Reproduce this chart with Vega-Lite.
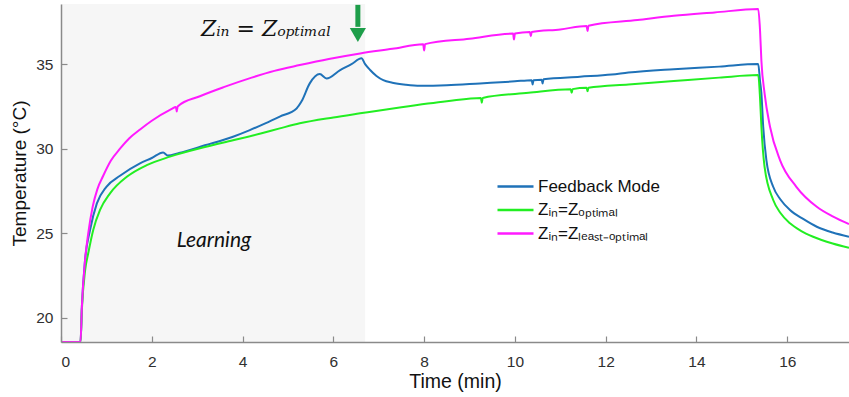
{
  "$schema": "https://vega.github.io/schema/vega-lite/v6.json",
  "width": 788,
  "height": 338,
  "autosize": {"type": "none"},
  "padding": {"left": 61, "top": 4, "right": 0, "bottom": 55},
  "background": "white",
  "config": {
    "view": {"stroke": null},
    "font": "Liberation Sans"
  },
  "datasets": {
    "region": [{"start": 0, "end": 6.7}],
    "lines": [
      {"series": "Feedback Mode", "t": 0, "T": 18.58},
      {"series": "Feedback Mode", "t": 0.43, "T": 18.58},
      {"series": "Feedback Mode", "t": 0.46, "T": 20.67},
      {"series": "Feedback Mode", "t": 0.53, "T": 23.42},
      {"series": "Feedback Mode", "t": 0.64, "T": 25.2},
      {"series": "Feedback Mode", "t": 0.79, "T": 26.77},
      {"series": "Feedback Mode", "t": 1.0, "T": 27.75},
      {"series": "Feedback Mode", "t": 1.3, "T": 28.4},
      {"series": "Feedback Mode", "t": 1.74, "T": 29.13},
      {"series": "Feedback Mode", "t": 2.0, "T": 29.45},
      {"series": "Feedback Mode", "t": 2.25, "T": 29.78},
      {"series": "Feedback Mode", "t": 2.35, "T": 29.6},
      {"series": "Feedback Mode", "t": 2.6, "T": 29.75},
      {"series": "Feedback Mode", "t": 3.17, "T": 30.2},
      {"series": "Feedback Mode", "t": 3.79, "T": 30.71},
      {"series": "Feedback Mode", "t": 4.16, "T": 31.1},
      {"series": "Feedback Mode", "t": 4.5, "T": 31.5},
      {"series": "Feedback Mode", "t": 4.82, "T": 31.9},
      {"series": "Feedback Mode", "t": 5.19, "T": 32.38},
      {"series": "Feedback Mode", "t": 5.3, "T": 32.8},
      {"series": "Feedback Mode", "t": 5.48, "T": 33.86},
      {"series": "Feedback Mode", "t": 5.7, "T": 34.41},
      {"series": "Feedback Mode", "t": 5.85, "T": 34.15},
      {"series": "Feedback Mode", "t": 6.15, "T": 34.65},
      {"series": "Feedback Mode", "t": 6.4, "T": 35.0},
      {"series": "Feedback Mode", "t": 6.62, "T": 35.34},
      {"series": "Feedback Mode", "t": 6.7, "T": 35.0},
      {"series": "Feedback Mode", "t": 6.81, "T": 34.65},
      {"series": "Feedback Mode", "t": 6.95, "T": 34.3},
      {"series": "Feedback Mode", "t": 7.1, "T": 34.05},
      {"series": "Feedback Mode", "t": 7.3, "T": 33.9},
      {"series": "Feedback Mode", "t": 7.6, "T": 33.78},
      {"series": "Feedback Mode", "t": 7.91, "T": 33.72},
      {"series": "Feedback Mode", "t": 8.5, "T": 33.75},
      {"series": "Feedback Mode", "t": 9.23, "T": 33.86},
      {"series": "Feedback Mode", "t": 10.0, "T": 33.98},
      {"series": "Feedback Mode", "t": 10.37, "T": 34.05},
      {"series": "Feedback Mode", "t": 10.39, "T": 33.8},
      {"series": "Feedback Mode", "t": 10.41, "T": 34.05},
      {"series": "Feedback Mode", "t": 10.59, "T": 34.08},
      {"series": "Feedback Mode", "t": 10.61, "T": 33.85},
      {"series": "Feedback Mode", "t": 10.63, "T": 34.1},
      {"series": "Feedback Mode", "t": 11.43, "T": 34.25},
      {"series": "Feedback Mode", "t": 12.13, "T": 34.38},
      {"series": "Feedback Mode", "t": 12.5, "T": 34.5},
      {"series": "Feedback Mode", "t": 13.5, "T": 34.7},
      {"series": "Feedback Mode", "t": 14.5, "T": 34.85},
      {"series": "Feedback Mode", "t": 15.36, "T": 35.0},
      {"series": "Feedback Mode", "t": 15.4, "T": 34.0},
      {"series": "Feedback Mode", "t": 15.43, "T": 33.27},
      {"series": "Feedback Mode", "t": 15.47, "T": 31.3},
      {"series": "Feedback Mode", "t": 15.54, "T": 29.33},
      {"series": "Feedback Mode", "t": 15.69, "T": 27.75},
      {"series": "Feedback Mode", "t": 15.85, "T": 27.0},
      {"series": "Feedback Mode", "t": 16.06, "T": 26.38},
      {"series": "Feedback Mode", "t": 16.35, "T": 25.85},
      {"series": "Feedback Mode", "t": 16.65, "T": 25.39},
      {"series": "Feedback Mode", "t": 17.0, "T": 25.05},
      {"series": "Feedback Mode", "t": 17.36, "T": 24.8},
      {"series": "Zᵢₙ=Zₒₚₜᵢₘₐₗ", "t": 0, "T": 18.58},
      {"series": "Zᵢₙ=Zₒₚₜᵢₘₐₗ", "t": 0.43, "T": 18.58},
      {"series": "Zᵢₙ=Zₒₚₜᵢₘₐₗ", "t": 0.46, "T": 20.5},
      {"series": "Zᵢₙ=Zₒₚₜᵢₘₐₗ", "t": 0.53, "T": 22.8},
      {"series": "Zᵢₙ=Zₒₚₜᵢₘₐₗ", "t": 0.6, "T": 23.82},
      {"series": "Zᵢₙ=Zₒₚₜᵢₘₐₗ", "t": 0.71, "T": 25.2},
      {"series": "Zᵢₙ=Zₒₚₜᵢₘₐₗ", "t": 0.86, "T": 26.38},
      {"series": "Zᵢₙ=Zₒₚₜᵢₘₐₗ", "t": 1.08, "T": 27.36},
      {"series": "Zᵢₙ=Zₒₚₜᵢₘₐₗ", "t": 1.45, "T": 28.34},
      {"series": "Zᵢₙ=Zₒₚₜᵢₘₐₗ", "t": 1.89, "T": 29.03},
      {"series": "Zᵢₙ=Zₒₚₜᵢₘₐₗ", "t": 2.4, "T": 29.53},
      {"series": "Zᵢₙ=Zₒₚₜᵢₘₐₗ", "t": 3.17, "T": 30.1},
      {"series": "Zᵢₙ=Zₒₚₜᵢₘₐₗ", "t": 3.79, "T": 30.5},
      {"series": "Zᵢₙ=Zₒₚₜᵢₘₐₗ", "t": 4.4, "T": 30.9},
      {"series": "Zᵢₙ=Zₒₚₜᵢₘₐₗ", "t": 4.82, "T": 31.2},
      {"series": "Zᵢₙ=Zₒₚₜᵢₘₐₗ", "t": 5.26, "T": 31.5},
      {"series": "Zᵢₙ=Zₒₚₜᵢₘₐₗ", "t": 6.0, "T": 31.85},
      {"series": "Zᵢₙ=Zₒₚₜᵢₘₐₗ", "t": 6.59, "T": 32.09},
      {"series": "Zᵢₙ=Zₒₚₜᵢₘₐₗ", "t": 7.5, "T": 32.45},
      {"series": "Zᵢₙ=Zₒₚₜᵢₘₐₗ", "t": 8.5, "T": 32.8},
      {"series": "Zᵢₙ=Zₒₚₜᵢₘₐₗ", "t": 9.25, "T": 33.0},
      {"series": "Zᵢₙ=Zₒₚₜᵢₘₐₗ", "t": 9.27, "T": 32.72},
      {"series": "Zᵢₙ=Zₒₚₜᵢₘₐₗ", "t": 9.29, "T": 33.0},
      {"series": "Zᵢₙ=Zₒₚₜᵢₘₐₗ", "t": 10.3, "T": 33.3},
      {"series": "Zᵢₙ=Zₒₚₜᵢₘₐₗ", "t": 11.23, "T": 33.52},
      {"series": "Zᵢₙ=Zₒₚₜᵢₘₐₗ", "t": 11.25, "T": 33.3},
      {"series": "Zᵢₙ=Zₒₚₜᵢₘₐₗ", "t": 11.27, "T": 33.52},
      {"series": "Zᵢₙ=Zₒₚₜᵢₘₐₗ", "t": 11.58, "T": 33.6},
      {"series": "Zᵢₙ=Zₒₚₜᵢₘₐₗ", "t": 11.6, "T": 33.4},
      {"series": "Zᵢₙ=Zₒₚₜᵢₘₐₗ", "t": 11.62, "T": 33.6},
      {"series": "Zᵢₙ=Zₒₚₜᵢₘₐₗ", "t": 12.5, "T": 33.8},
      {"series": "Zᵢₙ=Zₒₚₜᵢₘₐₗ", "t": 13.5, "T": 34.0},
      {"series": "Zᵢₙ=Zₒₚₜᵢₘₐₗ", "t": 14.5, "T": 34.2},
      {"series": "Zᵢₙ=Zₒₚₜᵢₘₐₗ", "t": 15.36, "T": 34.35},
      {"series": "Zᵢₙ=Zₒₚₜᵢₘₐₗ", "t": 15.4, "T": 33.0},
      {"series": "Zᵢₙ=Zₒₚₜᵢₘₐₗ", "t": 15.43, "T": 31.3},
      {"series": "Zᵢₙ=Zₒₚₜᵢₘₐₗ", "t": 15.5, "T": 28.93},
      {"series": "Zᵢₙ=Zₒₚₜᵢₘₐₗ", "t": 15.69, "T": 26.97},
      {"series": "Zᵢₙ=Zₒₚₜᵢₘₐₗ", "t": 15.85, "T": 26.2},
      {"series": "Zᵢₙ=Zₒₚₜᵢₘₐₗ", "t": 16.06, "T": 25.59},
      {"series": "Zᵢₙ=Zₒₚₜᵢₘₐₗ", "t": 16.3, "T": 25.15},
      {"series": "Zᵢₙ=Zₒₚₜᵢₘₐₗ", "t": 16.57, "T": 24.8},
      {"series": "Zᵢₙ=Zₒₚₜᵢₘₐₗ", "t": 17.0, "T": 24.4},
      {"series": "Zᵢₙ=Zₒₚₜᵢₘₐₗ", "t": 17.36, "T": 24.15},
      {"series": "Zᵢₙ=Zₗₑₐₛₜ₋ₒₚₜᵢₘₐₗ", "t": 0, "T": 18.58},
      {"series": "Zᵢₙ=Zₗₑₐₛₜ₋ₒₚₜᵢₘₐₗ", "t": 0.43, "T": 18.58},
      {"series": "Zᵢₙ=Zₗₑₐₛₜ₋ₒₚₜᵢₘₐₗ", "t": 0.46, "T": 20.67},
      {"series": "Zᵢₙ=Zₗₑₐₛₜ₋ₒₚₜᵢₘₐₗ", "t": 0.53, "T": 23.42},
      {"series": "Zᵢₙ=Zₗₑₐₛₜ₋ₒₚₜᵢₘₐₗ", "t": 0.6, "T": 25.0},
      {"series": "Zᵢₙ=Zₗₑₐₛₜ₋ₒₚₜᵢₘₐₗ", "t": 0.7, "T": 26.6},
      {"series": "Zᵢₙ=Zₗₑₐₛₜ₋ₒₚₜᵢₘₐₗ", "t": 0.8, "T": 27.6},
      {"series": "Zᵢₙ=Zₗₑₐₛₜ₋ₒₚₜᵢₘₐₗ", "t": 0.93, "T": 28.4},
      {"series": "Zᵢₙ=Zₗₑₐₛₜ₋ₒₚₜᵢₘₐₗ", "t": 1.1, "T": 29.3},
      {"series": "Zᵢₙ=Zₗₑₐₛₜ₋ₒₚₜᵢₘₐₗ", "t": 1.3, "T": 30.0},
      {"series": "Zᵢₙ=Zₗₑₐₛₜ₋ₒₚₜᵢₘₐₗ", "t": 1.5, "T": 30.6},
      {"series": "Zᵢₙ=Zₗₑₐₛₜ₋ₒₚₜᵢₘₐₗ", "t": 1.75, "T": 31.15},
      {"series": "Zᵢₙ=Zₗₑₐₛₜ₋ₒₚₜᵢₘₐₗ", "t": 2.0, "T": 31.65},
      {"series": "Zᵢₙ=Zₗₑₐₛₜ₋ₒₚₜᵢₘₐₗ", "t": 2.44, "T": 32.35},
      {"series": "Zᵢₙ=Zₗₑₐₛₜ₋ₒₚₜᵢₘₐₗ", "t": 2.53, "T": 32.47},
      {"series": "Zᵢₙ=Zₗₑₐₛₜ₋ₒₚₜᵢₘₐₗ", "t": 2.55, "T": 32.2},
      {"series": "Zᵢₙ=Zₗₑₐₛₜ₋ₒₚₜᵢₘₐₗ", "t": 2.57, "T": 32.5},
      {"series": "Zᵢₙ=Zₗₑₐₛₜ₋ₒₚₜᵢₘₐₗ", "t": 3.06, "T": 33.1},
      {"series": "Zᵢₙ=Zₗₑₐₛₜ₋ₒₚₜᵢₘₐₗ", "t": 3.6, "T": 33.65},
      {"series": "Zᵢₙ=Zₗₑₐₛₜ₋ₒₚₜᵢₘₐₗ", "t": 4.2, "T": 34.2},
      {"series": "Zᵢₙ=Zₗₑₐₛₜ₋ₒₚₜᵢₘₐₗ", "t": 4.7, "T": 34.6},
      {"series": "Zᵢₙ=Zₗₑₐₛₜ₋ₒₚₜᵢₘₐₗ", "t": 5.26, "T": 34.94},
      {"series": "Zᵢₙ=Zₗₑₐₛₜ₋ₒₚₜᵢₘₐₗ", "t": 5.9, "T": 35.3},
      {"series": "Zᵢₙ=Zₗₑₐₛₜ₋ₒₚₜᵢₘₐₗ", "t": 6.59, "T": 35.63},
      {"series": "Zᵢₙ=Zₗₑₐₛₜ₋ₒₚₜᵢₘₐₗ", "t": 7.3, "T": 35.9},
      {"series": "Zᵢₙ=Zₗₑₐₛₜ₋ₒₚₜᵢₘₐₗ", "t": 7.98, "T": 36.17},
      {"series": "Zᵢₙ=Zₗₑₐₛₜ₋ₒₚₜᵢₘₐₗ", "t": 8.0, "T": 35.8},
      {"series": "Zᵢₙ=Zₗₑₐₛₜ₋ₒₚₜᵢₘₐₗ", "t": 8.02, "T": 36.18},
      {"series": "Zᵢₙ=Zₗₑₐₛₜ₋ₒₚₜᵢₘₐₗ", "t": 9.0, "T": 36.5},
      {"series": "Zᵢₙ=Zₗₑₐₛₜ₋ₒₚₜᵢₘₐₗ", "t": 9.96, "T": 36.8},
      {"series": "Zᵢₙ=Zₗₑₐₛₜ₋ₒₚₜᵢₘₐₗ", "t": 9.98, "T": 36.45},
      {"series": "Zᵢₙ=Zₗₑₐₛₜ₋ₒₚₜᵢₘₐₗ", "t": 10.0, "T": 36.81},
      {"series": "Zᵢₙ=Zₗₑₐₛₜ₋ₒₚₜᵢₘₐₗ", "t": 10.33, "T": 36.9},
      {"series": "Zᵢₙ=Zₗₑₐₛₜ₋ₒₚₜᵢₘₐₗ", "t": 10.35, "T": 36.65},
      {"series": "Zᵢₙ=Zₗₑₐₛₜ₋ₒₚₜᵢₘₐₗ", "t": 10.37, "T": 36.9},
      {"series": "Zᵢₙ=Zₗₑₐₛₜ₋ₒₚₜᵢₘₐₗ", "t": 11.0, "T": 37.05},
      {"series": "Zᵢₙ=Zₗₑₐₛₜ₋ₒₚₜᵢₘₐₗ", "t": 11.58, "T": 37.25},
      {"series": "Zᵢₙ=Zₗₑₐₛₜ₋ₒₚₜᵢₘₐₗ", "t": 11.6, "T": 36.95},
      {"series": "Zᵢₙ=Zₗₑₐₛₜ₋ₒₚₜᵢₘₐₗ", "t": 11.62, "T": 37.27},
      {"series": "Zᵢₙ=Zₗₑₐₛₜ₋ₒₚₜᵢₘₐₗ", "t": 12.7, "T": 37.6},
      {"series": "Zᵢₙ=Zₗₑₐₛₜ₋ₒₚₜᵢₘₐₗ", "t": 13.5, "T": 37.85},
      {"series": "Zᵢₙ=Zₗₑₐₛₜ₋ₒₚₜᵢₘₐₗ", "t": 14.4, "T": 38.05},
      {"series": "Zᵢₙ=Zₗₑₐₛₜ₋ₒₚₜᵢₘₐₗ", "t": 15.36, "T": 38.25},
      {"series": "Zᵢₙ=Zₗₑₐₛₜ₋ₒₚₜᵢₘₐₗ", "t": 15.4, "T": 37.0},
      {"series": "Zᵢₙ=Zₗₑₐₛₜ₋ₒₚₜᵢₘₐₗ", "t": 15.43, "T": 35.2},
      {"series": "Zᵢₙ=Zₗₑₐₛₜ₋ₒₚₜᵢₘₐₗ", "t": 15.5, "T": 33.27},
      {"series": "Zᵢₙ=Zₗₑₐₛₜ₋ₒₚₜᵢₘₐₗ", "t": 15.62, "T": 31.3},
      {"series": "Zᵢₙ=Zₗₑₐₛₜ₋ₒₚₜᵢₘₐₗ", "t": 15.84, "T": 29.33},
      {"series": "Zᵢₙ=Zₗₑₐₛₜ₋ₒₚₜᵢₘₐₗ", "t": 16.2, "T": 27.75},
      {"series": "Zᵢₙ=Zₗₑₐₛₜ₋ₒₚₜᵢₘₐₗ", "t": 16.65, "T": 26.57},
      {"series": "Zᵢₙ=Zₗₑₐₛₜ₋ₒₚₜᵢₘₐₗ", "t": 17.0, "T": 26.0},
      {"series": "Zᵢₙ=Zₗₑₐₛₜ₋ₒₚₜᵢₘₐₗ", "t": 17.36, "T": 25.55}
    ]
  },
  "layer": [
    {
      "data": {"name": "region"},
      "mark": {"type": "rect", "fill": "#f6f6f6"},
      "encoding": {
        "x": {"field": "start", "type": "quantitative", "scale": {"domain": [0, 17.36], "nice": false}, "title": "Time (min)"},
        "x2": {"field": "end"}
      }
    },
    {
      "data": {"name": "lines"},
      "mark": {"type": "line", "strokeWidth": 2, "clip": true, "interpolate": "monotone"},
      "encoding": {
        "x": {
          "field": "t", "type": "quantitative",
          "scale": {"domain": [0, 17.36], "nice": false},
          "title": "Time (min)",
          "axis": {
            "values": [0, 2, 4, 6, 8, 10, 12, 14, 16], "grid": false, "zindex": 1,
            "domainColor": "#8a8a8a", "domainWidth": 1.5, "tickColor": "#8a8a8a", "tickWidth": 1.2, "tickSize": -6,
            "labelColor": "#303030", "labelFontSize": 15.5, "labelPadding": 18,
            "titleColor": "#111111", "titleFontSize": 19.5, "titleFontWeight": "normal", "titlePadding": 3
          }
        },
        "y": {
          "field": "T", "type": "quantitative",
          "scale": {"domain": [18.58, 38.55], "nice": false, "zero": false},
          "title": "Temperature  (°C)",
          "axis": {
            "values": [20, 25, 30, 35], "grid": false, "zindex": 1,
            "domainColor": "#8a8a8a", "domainWidth": 1.5, "tickColor": "#8a8a8a", "tickWidth": 1.2, "tickSize": -6,
            "labelColor": "#303030", "labelFontSize": 15.5, "labelPadding": 14,
            "titleColor": "#111111", "titleFontSize": 19, "titleFontWeight": "normal", "titlePadding": 6
          }
        },
        "color": {
          "field": "series", "type": "nominal",
          "scale": {
            "domain": ["Feedback Mode", "Zᵢₙ=Zₒₚₜᵢₘₐₗ", "Zᵢₙ=Zₗₑₐₛₜ₋ₒₚₜᵢₘₐₗ"],
            "range": ["#1f72b8", "#22ee22", "#ff1aff"]
          },
          "legend": {
            "title": null,
            "orient": "none",
            "legendX": 443,
            "legendY": 171,
            "symbolType": "M-1.8,0H1.8",
            "symbolSize": 400,
            "symbolStrokeWidth": 2.5,
            "labelFontSize": 17,
            "labelColor": "#111111",
            "labelOffset": 11,
            "rowPadding": 3.5
          }
        }
      }
    },
    {
      "data": {"values": [{"label": "Learning", "t": 3.37, "T": 24.55}]},
      "mark": {"type": "text", "font": "Lato", "fontStyle": "italic", "fontSize": 21, "color": "#111111"},
      "encoding": {
        "x": {"field": "t", "type": "quantitative"},
        "y": {"field": "T", "type": "quantitative"},
        "text": {"field": "label"}
      }
    },
    {
      "data": {"values": [{"label": "Zᵢₙ = Zₒₚₜᵢₘₐₗ", "t": 4.52, "T": 37.1}]},
      "mark": {"type": "text", "font": "DejaVu Serif", "fontStyle": "italic", "fontSize": 22, "color": "#111111"},
      "encoding": {
        "x": {"field": "t", "type": "quantitative"},
        "y": {"field": "T", "type": "quantitative"},
        "text": {"field": "label"}
      }
    },
    {
      "data": {"values": [{"t": 6.54, "top": 38.5, "base": 37.2}]},
      "mark": {"type": "rule", "strokeWidth": 5, "color": "#1e9e4a"},
      "encoding": {
        "x": {"field": "t", "type": "quantitative"},
        "y": {"field": "top", "type": "quantitative"},
        "y2": {"field": "base"}
      }
    },
    {
      "data": {"values": [{"t": 6.54, "T": 36.72}]},
      "mark": {"type": "point", "shape": "triangle-down", "filled": true, "size": 260, "color": "#1e9e4a", "opacity": 1},
      "encoding": {
        "x": {"field": "t", "type": "quantitative"},
        "y": {"field": "T", "type": "quantitative"}
      }
    }
  ]
}
